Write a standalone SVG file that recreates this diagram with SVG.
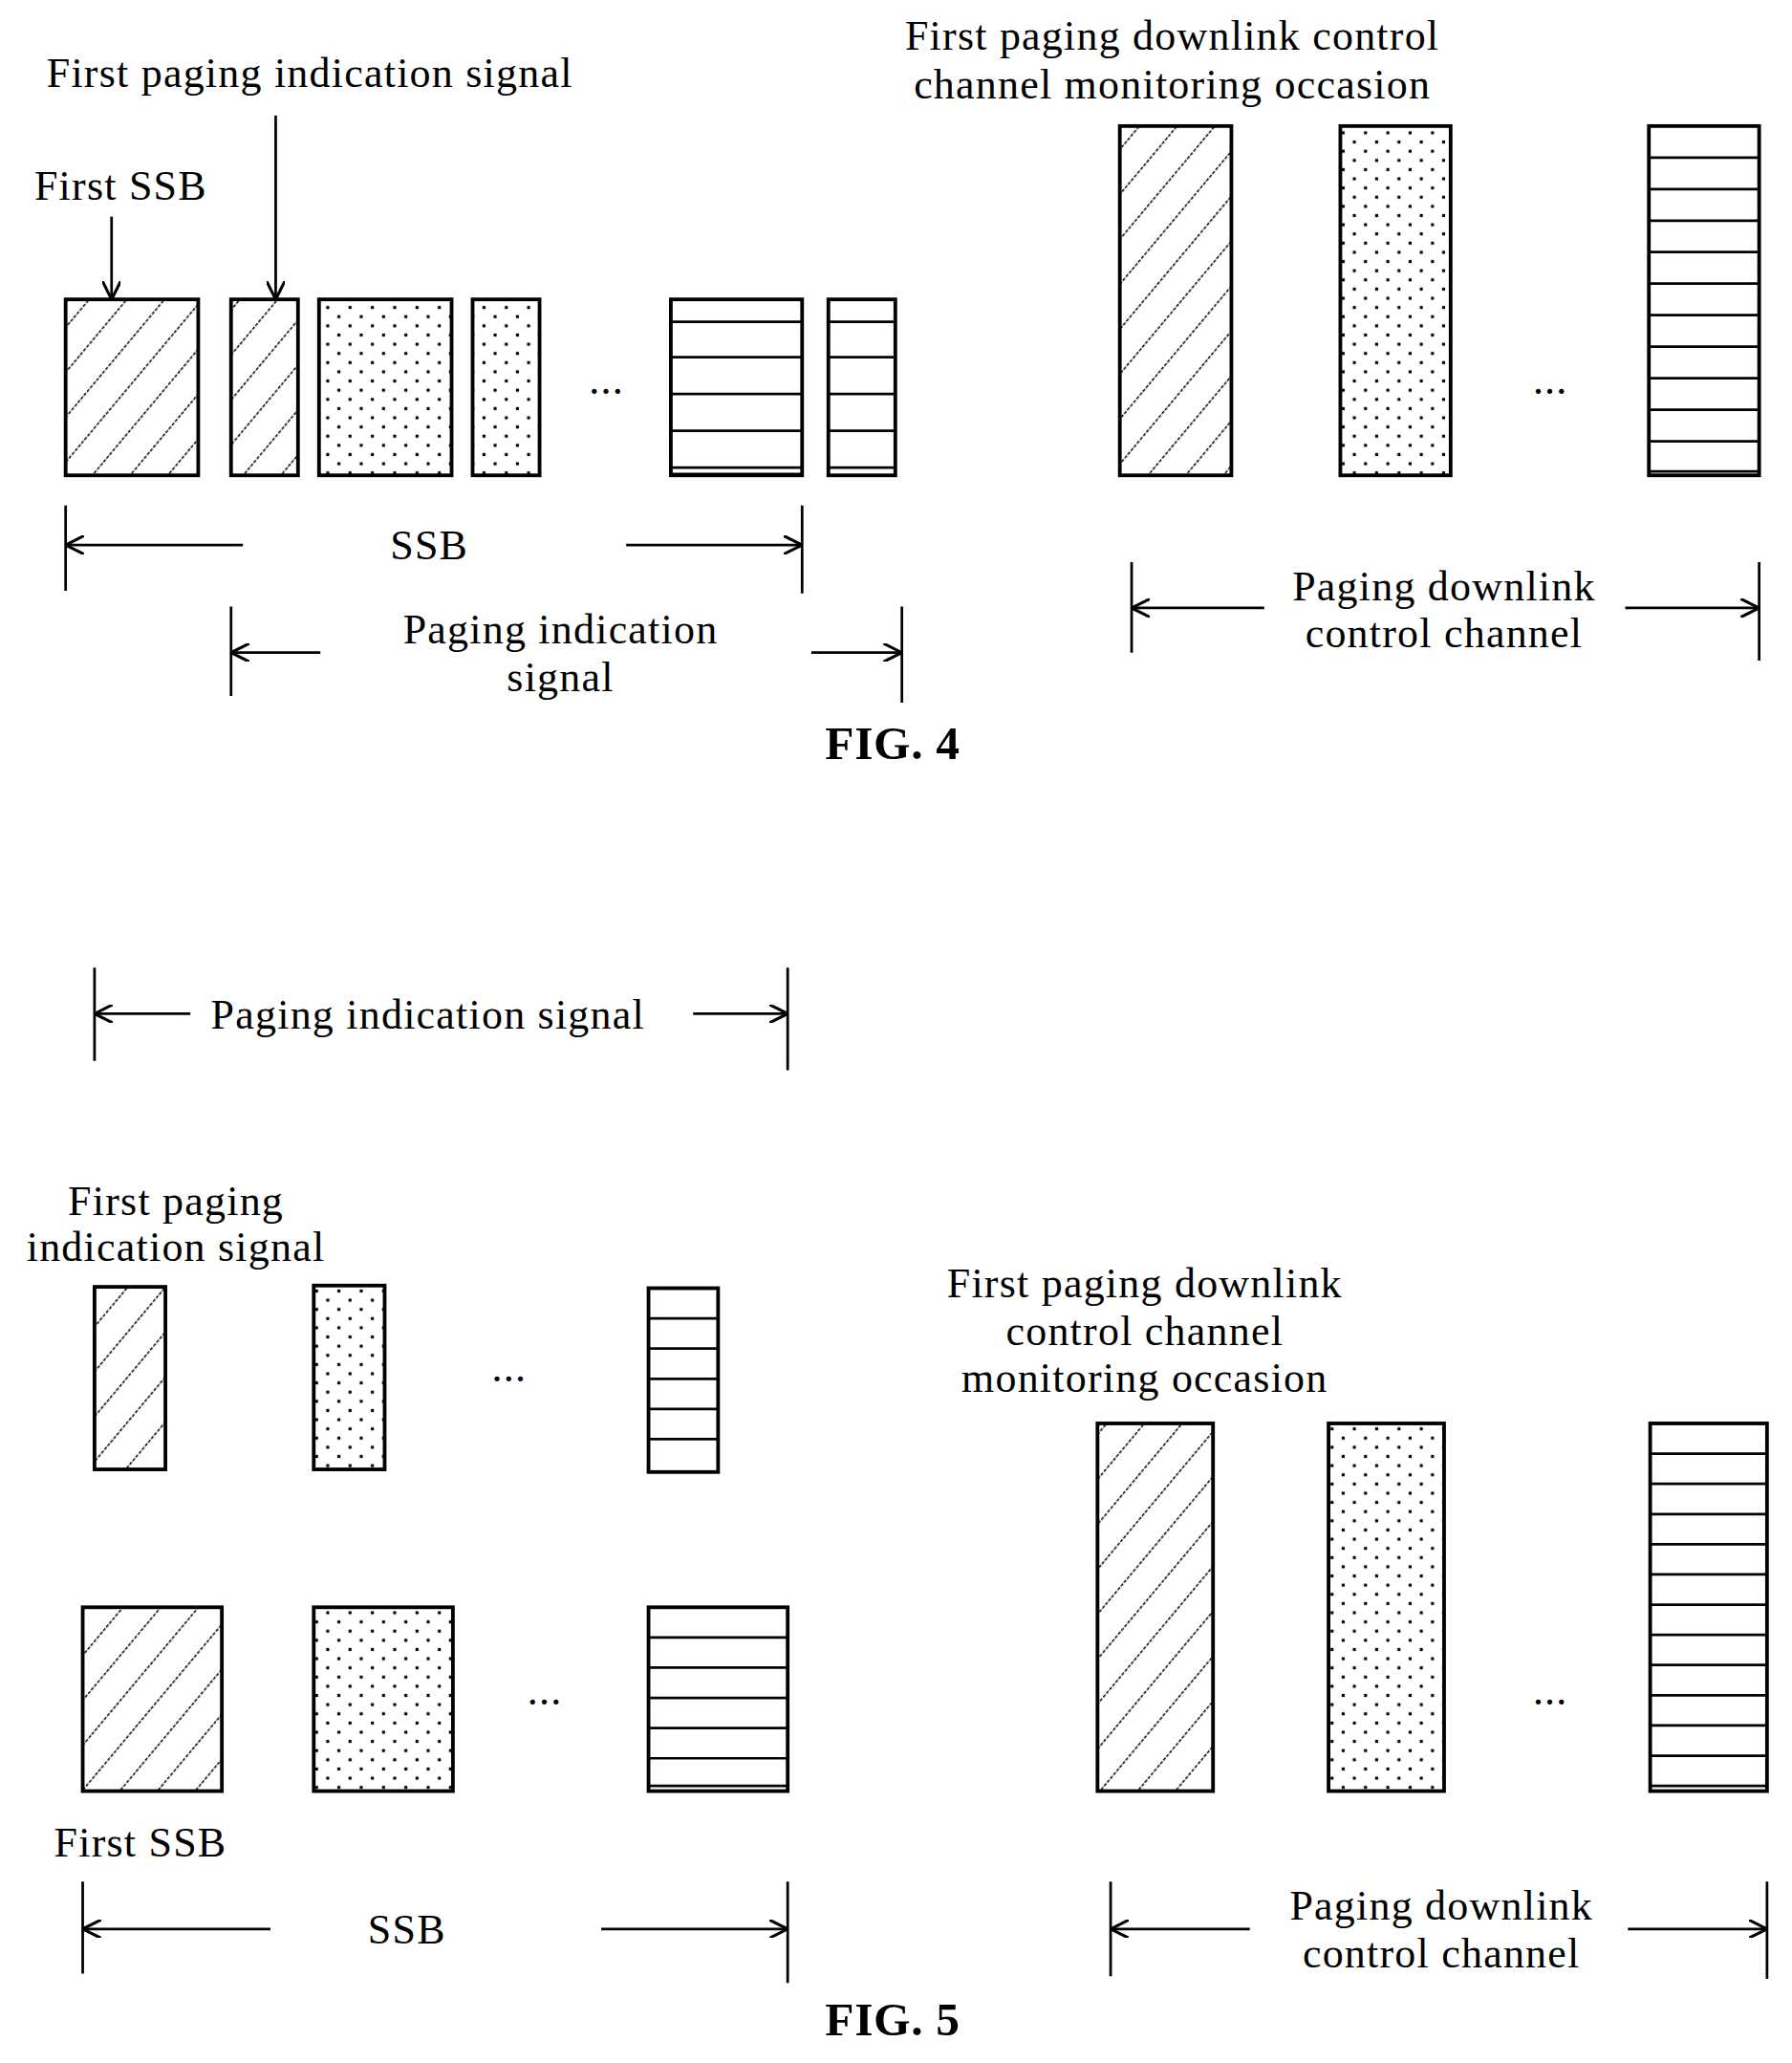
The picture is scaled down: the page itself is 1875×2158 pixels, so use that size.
<svg xmlns="http://www.w3.org/2000/svg" width="1875" height="2158" viewBox="0 0 1875 2158">
<defs>
<pattern id="hatch" patternUnits="userSpaceOnUse" width="22" height="22" patternTransform="rotate(40)">
<line x1="0" y1="0" x2="0" y2="22" stroke="#000" stroke-width="2.2" stroke-dasharray="2.5 1.2"/>
</pattern>
<pattern id="dots" patternUnits="userSpaceOnUse" width="17" height="14">
<rect x="2" y="2" width="2.3" height="2.3" fill="#000"/>
<rect x="10.5" y="9" width="2.3" height="2.3" fill="#000"/>
</pattern>
<marker id="ah" viewBox="0 0 10 10" refX="10" refY="5" markerWidth="14" markerHeight="14" markerUnits="userSpaceOnUse" orient="auto">
<path d="M0,0 L10,5 L0,10" fill="none" stroke="#000" stroke-width="1.6"/>
</marker>
</defs>
<style>
text{font-family:"Liberation Serif","Times New Roman",serif;font-size:32px;fill:#000;letter-spacing:0.9px}
.c{text-anchor:middle}
.fig{font-weight:bold;font-size:36px;letter-spacing:0.5px}
.b{stroke:#000;stroke-width:2.8}
.h{fill:url(#hatch)}
.d{fill:url(#dots)}
.w{fill:#fff}
.l{stroke:#000;stroke-width:2;fill:none}
.a{stroke:#000;stroke-width:2;fill:none;marker-end:url(#ah)}
</style>
<rect width="1875" height="2158" fill="#fff"/>
<g transform="scale(1.3736)">
<g id="fig4">
<text x="236" y="66" class="c">First paging indication signal</text>
<text x="92" y="152" class="c">First SSB</text>
<text x="893" y="38" class="c">First paging downlink control</text>
<text x="893" y="75" class="c">channel monitoring occasion</text>
<g id="n4a"><rect class="b h" x="50" y="228" width="101" height="134"/></g>
<g id="n4b"><rect class="b h" x="176" y="228" width="51" height="134"/></g>
<g id="n4c"><rect class="b d" x="243" y="228" width="101" height="134"/></g>
<g id="n4d"><rect class="b d" x="360" y="228" width="51" height="134"/></g>
<text x="462" y="300" class="c">...</text>
<g id="n4e"><rect class="b w" x="511" y="228" width="100" height="134"/>
<path class="l" d="M511 245H611M511 272H611M511 300H611M511 328H611M511 356H611M511 361H611"/></g>
<g id="n4f"><rect class="b w" x="631" y="228" width="51" height="134"/>
<path class="l" d="M631 245H682M631 272H682M631 300H682M631 328H682M631 356H682"/></g>
<g id="n4g"><rect class="b h" x="853" y="96" width="85" height="266"/></g>
<g id="n4h"><rect class="b d" x="1021" y="96" width="84" height="266"/></g>
<text x="1181" y="300" class="c">...</text>
<g id="n4i"><rect class="b w" x="1256" y="96" width="84" height="266"/>
<path class="l" d="M1256 120H1340M1256 144H1340M1256 168H1340M1256 192H1340M1256 216H1340M1256 240H1340M1256 264H1340M1256 288H1340M1256 312H1340M1256 336H1340M1256 359H1340"/></g>
<text x="327" y="426" class="c">SSB</text>
<text x="427" y="490" class="c">Paging indication</text>
<text x="427" y="526" class="c">signal</text>
<text x="1100" y="457" class="c">Paging downlink</text>
<text x="1100" y="493" class="c">control channel</text>
<text x="680" y="578" class="c fig">FIG. 4</text>
</g>
<g id="fig5">
<text x="326" y="783" class="c">Paging indication signal</text>
<text x="134" y="925" class="c">First paging</text>
<text x="134" y="960" class="c">indication signal</text>
<g id="n5a"><rect class="b h" x="72" y="980" width="54" height="139"/></g>
<g id="n5b"><rect class="b d" x="239" y="979" width="54" height="140"/></g>
<text x="388" y="1052" class="c">...</text>
<g id="n5c"><rect class="b w" x="494" y="981" width="53" height="140"/>
<path class="l" d="M494 1004H547M494 1027H547M494 1050H547M494 1073H547M494 1096H547"/></g>
<g id="n5d"><rect class="b h" x="63" y="1224" width="106" height="140"/></g>
<g id="n5e"><rect class="b d" x="239" y="1224" width="106" height="140"/></g>
<text x="415" y="1298" class="c">...</text>
<g id="n5f"><rect class="b w" x="494" y="1224" width="106" height="140"/>
<path class="l" d="M494 1247H600M494 1270H600M494 1293H600M494 1316H600M494 1339H600M494 1360H600"/></g>
<text x="107" y="1414" class="c">First SSB</text>
<text x="872" y="988" class="c">First paging downlink</text>
<text x="872" y="1024" class="c">control channel</text>
<text x="872" y="1060" class="c">monitoring occasion</text>
<g id="n5g"><rect class="b h" x="836" y="1084" width="88" height="280"/></g>
<g id="n5h"><rect class="b d" x="1012" y="1084" width="88" height="280"/></g>
<text x="1181" y="1298" class="c">...</text>
<g id="n5i"><rect class="b w" x="1257" y="1084" width="89" height="280"/>
<path class="l" d="M1257 1107H1346M1257 1130H1346M1257 1153H1346M1257 1176H1346M1257 1199H1346M1257 1222H1346M1257 1245H1346M1257 1268H1346M1257 1291H1346M1257 1314H1346M1257 1337H1346M1257 1360H1346"/></g>
<text x="310" y="1480" class="c">SSB</text>
<text x="1098" y="1462" class="c">Paging downlink</text>
<text x="1098" y="1498" class="c">control channel</text>
<text x="680" y="1550" class="c fig">FIG. 5</text>
</g>
<g id="connectors">
<path class="a" d="M85 165V228"/>
<path class="a" d="M210 88V228"/>
<path class="l" d="M50 385V450M611 385V452"/>
<path class="a" d="M185 415H50"/><path class="a" d="M477 415H611"/>
<path class="l" d="M176 462V530M687 462V535"/>
<path class="a" d="M244 497H176"/><path class="a" d="M618 497H687"/>
<path class="l" d="M862 428V497M1340 428V503"/>
<path class="a" d="M963 463H862"/><path class="a" d="M1238 463H1340"/>
<path class="l" d="M72 737V808M600 737V815"/>
<path class="a" d="M145 772H72"/><path class="a" d="M528 772H600"/>
<path class="l" d="M63 1433V1503M600 1433V1510"/>
<path class="a" d="M206 1469H63"/><path class="a" d="M458 1469H600"/>
<path class="l" d="M846 1433V1505M1346 1433V1507"/>
<path class="a" d="M952 1469H846"/><path class="a" d="M1240 1469H1346"/>
</g>
</g>
</svg>
